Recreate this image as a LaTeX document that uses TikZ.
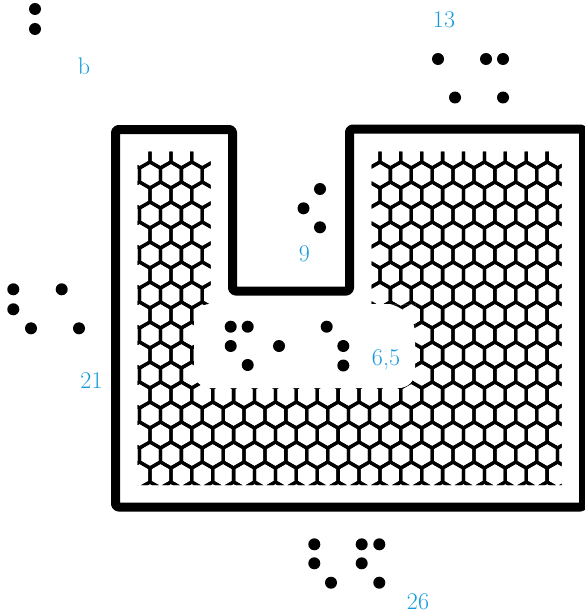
\documentclass[tikz,border=0pt]{standalone}
\definecolor{lblc}{RGB}{20,155,220}
\tikzset{
  bdot/.style={fill=black},
  lbl/.style={text=lblc, font=\fontsize{24}{28}\selectfont, anchor=base, inner sep=0pt},
  wall/.style={line width=9pt, rounded corners=3pt, line join=round},
  hexline/.style={line width=3.3pt, line join=round}
}
\begin{document}
\begin{tikzpicture}[x=1pt,y=-1pt]
\useasboundingbox (0,0) rectangle (585,615);
\clip (0,0) rectangle (585,615);
% honeycomb
\begin{scope}
\clip (137.5,151.5) -- (210.5,151.5) -- (210.5,313) -- (371.5,313) -- (371.5,151.5) -- (561.5,151.5) -- (561.5,485) -- (137.5,485) -- cycle;
\foreach \k in {-1,...,16} {
  \foreach \i in {-1,...,21} {
    \pgfmathsetmacro\cx{150+20.9*\i+10.45*mod(\k+2,2)}
    \pgfmathsetmacro\cy{175+20*\k}
    \draw[hexline] (\cx,\cy-13) -- ++(10.45,6) -- ++(0,14) -- ++(-10.45,6) -- ++(-10.45,-6) -- ++(0,-14) -- cycle;
  }
}
\end{scope}
% white blob
\fill[white] (194,346) [rounded corners=16pt] -- (194,304) -- (398,304) [rounded corners=30pt] -- (415,304) -- (415,330) [rounded corners=16pt] -- (415,388) -- (194,388) -- cycle;
% U wall
\draw[wall] (115.5,507) -- (115.5,129.5) -- (232.5,129.5) -- (232.5,291) -- (349.5,291) -- (349.5,129) -- (583.5,129) -- (583.5,507) -- cycle;
% braille dots
\foreach \p in {(35,9),(35,29)} \fill[bdot] \p circle[radius=6pt];
\foreach \p in {(438,59),(486,59),(503,59),(455,97.5),(503,97.5)} \fill[bdot] \p circle[radius=6pt];
\foreach \p in {(320,189),(303.5,208.3),(320,227.3)} \fill[bdot] \p circle[radius=6pt];
\foreach \p in {(13.3,289.3),(61.7,289.3),(13.3,309.3),(31,328.3),(79,328.3)} \fill[bdot] \p circle[radius=6pt];
\foreach \p in {(230.7,326.7),(247.7,326.7),(230.7,346),(247.7,365),(279,346),(326.7,326.7),(343.3,346),(343.3,365.5)} \fill[bdot] \p circle[radius=6pt];
\foreach \p in {(314.3,544.3),(361.7,544.3),(379.3,544.3),(314.3,563.3),(361.7,563.3),(331,582.7),(379.3,582.7)} \fill[bdot] \p circle[radius=6pt];
% labels
\node[lbl] (lb) at (84,75) {b};
\node[lbl] (l13) at (444,28) {13};
\node[lbl] (l9) at (304.5,261.5) {9};
\node[lbl] (l21) at (91.5,388) {21};
\node[lbl] (l65) at (386,365) {6,5};
\node[lbl] (l26) at (418,609) {26};
\end{tikzpicture}
\end{document}
